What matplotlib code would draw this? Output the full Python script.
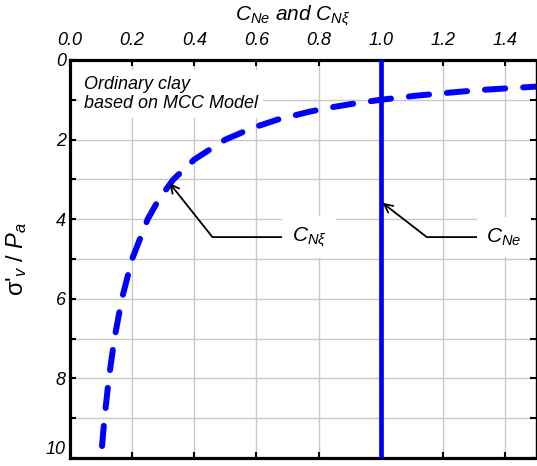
import matplotlib
matplotlib.use('Agg')
import matplotlib.pyplot as plt
from matplotlib.ticker import MultipleLocator

# ===== DATA =====
# dashed curve C_Nxi vs normalised vertical stress
sigma_v = [9.7, 9.0, 8.0, 7.0, 6.0, 5.0, 4.0, 3.5, 3.0, 2.5, 2.0, 1.7,
           1.5, 1.3, 1.2, 1.1, 1.0, 0.9, 0.8, 0.75, 0.7, 0.67]
c_nxi = [0.103, 0.111, 0.125, 0.143, 0.167, 0.20, 0.25, 0.286, 0.333, 0.40,
         0.50, 0.59, 0.667, 0.77, 0.833, 0.91, 1.0, 1.11, 1.25, 1.33, 1.43, 1.5]
# C_Ne is constant
c_ne = 1.0
y_range = [0, 10]

x_ticks = [0.0, 0.2, 0.4, 0.6, 0.8, 1.0, 1.2, 1.4]
y_ticks = [0, 2, 4, 6, 8, 10]

plt.rcParams['font.family'] = ['Liberation Sans', 'DejaVu Sans']
plt.rcParams['mathtext.fontset'] = 'custom'
plt.rcParams['mathtext.it'] = 'Liberation Sans:italic'
plt.rcParams['mathtext.rm'] = 'Liberation Sans'
plt.rcParams['mathtext.sf'] = 'Liberation Sans'

BLUE = '#0000ff'

fig = plt.figure(figsize=(5.37, 4.66), dpi=100)
ax = fig.add_axes([70 / 537, 1 - 458 / 466, 466 / 537, 398 / 466])

# ===== LINES =====
ax.plot(c_nxi, sigma_v, color=BLUE, linewidth=4.3, linestyle=(0, (3.4, 3.0)),
        dash_capstyle='round', zorder=3)
ax.plot([c_ne, c_ne], y_range, color=BLUE, linewidth=3.4, zorder=3)

# ===== AXES =====
ax.set_xlim(0, 1.5)
ax.set_ylim(10, 0)
ax.xaxis.set_ticks_position('both')
ax.yaxis.set_ticks_position('both')
ax.tick_params(axis='x', labeltop=True, labelbottom=False)
ax.set_xticks(x_ticks)
ax.set_xticklabels([f'{v:.1f}' for v in x_ticks], fontstyle='italic', fontsize=13)
ax.set_yticks(y_ticks)
ax.set_yticklabels([str(v) for v in y_ticks], fontstyle='italic', fontsize=13)
ax.get_yticklabels()[-1].set_va('bottom')  # keep "10" inside the picture
ax.yaxis.set_minor_locator(MultipleLocator(1))
ax.tick_params(which='both', direction='in', length=4, width=1.5, color='black')
ax.tick_params(axis='x', pad=8)
ax.tick_params(axis='y', pad=3)

ax.grid(True, which='both', color='#c8c8c8', linewidth=1.0, zorder=0)
ax.set_axisbelow(True)

for side in ('left', 'top', 'bottom'):
    ax.spines[side].set_linewidth(2.3)
ax.spines['right'].set_linewidth(1.0)

# top axis title
fig.text(293 / 537, 1 - 16 / 466, r'$C_{Ne}$ and $C_{N\xi}$', fontsize=15,
         fontstyle='italic', ha='center', va='center')
ax.set_ylabel(r"σ'$_v$ / $P_a$", fontsize=17, labelpad=12)

# ===== ANNOTATIONS =====
box = dict(boxstyle='square,pad=0.45', fc='white', ec='none')
ax.text(0.045, 0.85, 'Ordinary clay\nbased on MCC Model', fontsize=13,
        fontstyle='italic', va='center', ha='left', linespacing=1.2,
        bbox=dict(boxstyle='square,pad=0.3', fc='white', ec='none'), zorder=4)

ax.annotate(r'$C_{N\xi}$', xy=(0.32, 3.09), xytext=(0.714, 4.45),
            fontsize=15, va='center', ha='left', bbox=box, zorder=5,
            arrowprops=dict(arrowstyle='->', color='black', lw=1.3,
                            connectionstyle='angle,angleA=0,angleB=-51.5,rad=0',
                            shrinkA=0, shrinkB=0))
ax.annotate(r'$C_{Ne}$', xy=(1.006, 3.59), xytext=(1.34, 4.45),
            fontsize=15, va='center', ha='left', bbox=box, zorder=5,
            arrowprops=dict(arrowstyle='->', color='black', lw=1.3,
                            connectionstyle='angle,angleA=0,angleB=-37.7,rad=0',
                            shrinkA=0, shrinkB=0))

fig.savefig('out.png', dpi=100)
